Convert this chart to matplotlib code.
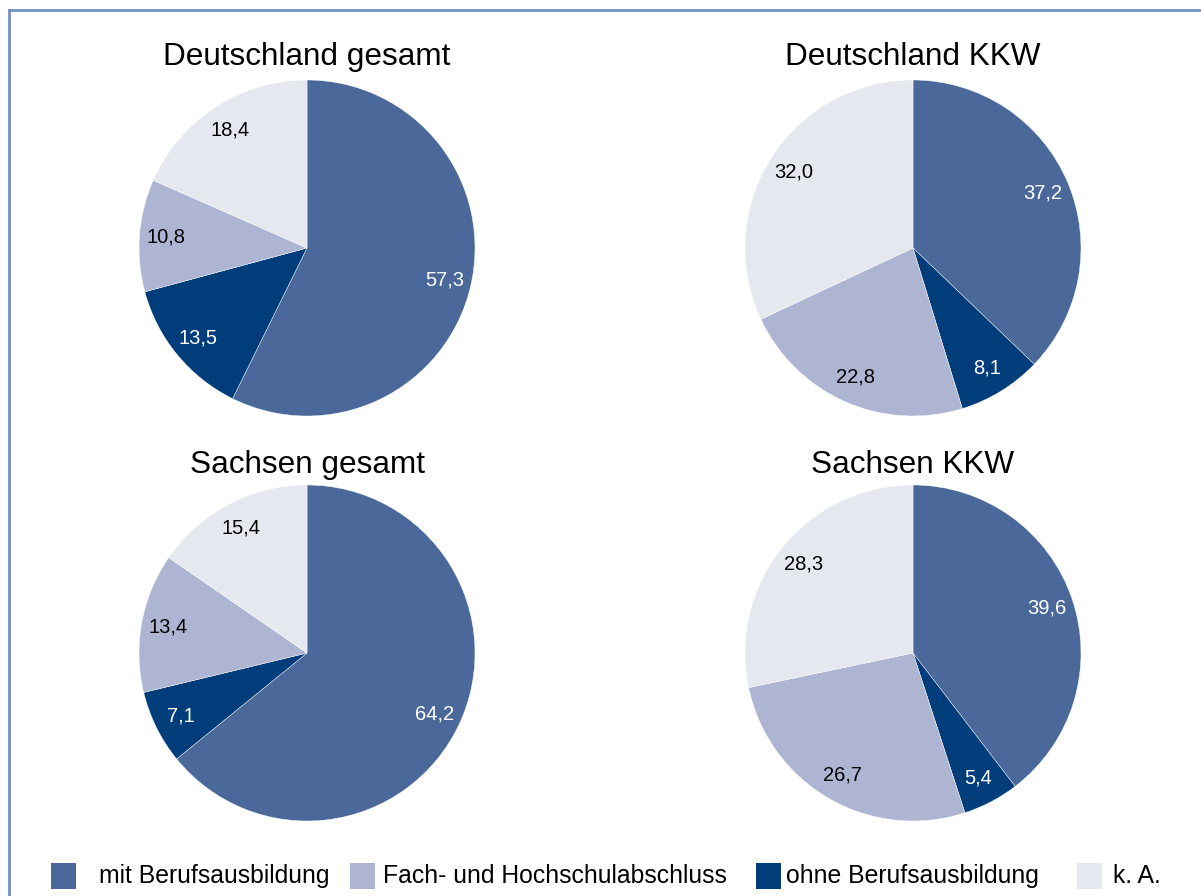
import numpy as np
import matplotlib
matplotlib.use("Agg")
import matplotlib.pyplot as plt
from matplotlib.lines import Line2D
from matplotlib.patches import Rectangle

plt.rcParams['font.family'] = ['Liberation Sans', 'DejaVu Sans']

# slice order (clockwise from 12 o'clock)
categories = ["mit Berufsausbildung", "ohne Berufsausbildung",
              "Fach- und Hochschulabschluss", "k. A."]
colors = ["#4a6899", "#003d7a", "#aeb5d3", "#e6e8f0"]
text_colors = ["white", "white", "black", "black"]

titles = ["Deutschland gesamt", "Deutschland KKW", "Sachsen gesamt", "Sachsen KKW"]
de_gesamt = [57.3, 13.5, 10.8, 18.4]
de_kkw = [37.2, 8.1, 22.8, 32.0]
sn_gesamt = [64.2, 7.1, 13.4, 15.4]
sn_kkw = [39.6, 5.4, 26.7, 28.3]
all_values = [de_gesamt, de_kkw, sn_gesamt, sn_kkw]

legend_order = [0, 2, 1, 3]

W, H = 1201, 896
fig = plt.figure(figsize=(W / 100, H / 100), dpi=100)

# pie centres in pixels (x, y from top)
centers = [(307, 248), (913, 248), (307, 653), (913, 653)]
R = 168
title_y = [57, 57, 465, 465]

for k, (cx, cy) in enumerate(centers):
    ax = fig.add_axes([(cx - R) / W, (H - cy - R) / H, 2 * R / W, 2 * R / H])
    vals = all_values[k]
    wedges, _ = ax.pie(vals, colors=colors, startangle=90, counterclock=False,
                       radius=1.0, wedgeprops=dict(edgecolor='white', linewidth=0.3))
    for w, v, tc in zip(wedges, vals, text_colors):
        mid = np.radians((w.theta1 + w.theta2) / 2)
        r = 0.84
        ax.text(r * np.cos(mid), r * np.sin(mid), f"{v:.1f}".replace('.', ','),
                ha='center', va='center', fontsize=14.5, color=tc)
    ax.set_xlim(-1.0, 1.0)
    ax.set_ylim(-1.0, 1.0)
    ax.set_aspect('equal')
    ax.axis('off')
    fig.text(cx / W, 1 - title_y[k] / H, titles[k], ha='center', va='center', fontsize=22.7)

# legend drawn by hand
leg_y = 876
sq_x = [51, 350, 756, 1077]
txt_x = [99, 383, 786, 1113]
for j, idx in enumerate(legend_order):
    fig.add_artist(Rectangle((sq_x[j] / W, (H - leg_y - 13) / H), 25 / W, 26 / H,
                             transform=fig.transFigure, facecolor=colors[idx],
                             edgecolor='none'))
    fig.text(txt_x[j] / W, 1 - leg_y / H, categories[idx], ha='left', va='center',
             fontsize=17.8)

# outer frame (only left and top edges fall inside the image)
frame_col = "#7290c4"
fig.add_artist(Line2D([8.5 / W, 8.5 / W], [0, 1 - 10 / H], transform=fig.transFigure,
                      color=frame_col, linewidth=2))
fig.add_artist(Line2D([8.5 / W, 1], [1 - 10 / H, 1 - 10 / H], transform=fig.transFigure,
                      color=frame_col, linewidth=2))

fig.savefig("out.png", dpi=100)
